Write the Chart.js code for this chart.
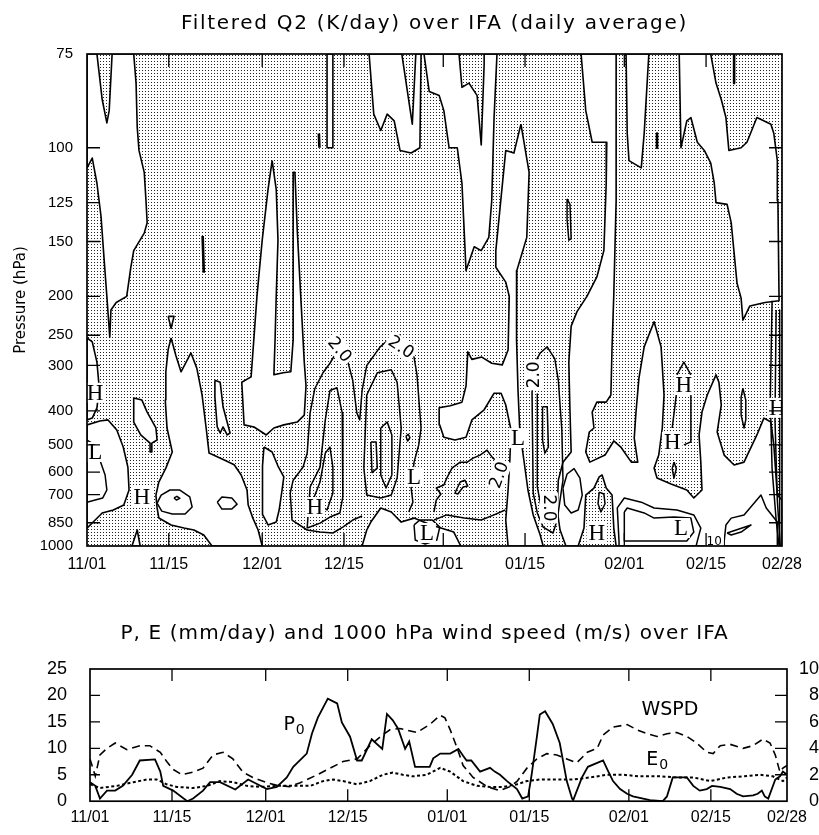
<!DOCTYPE html>
<html>
<head>
<meta charset="utf-8">
<title>Filtered Q2 and surface fluxes over IFA</title>
<script src="https://cdn.jsdelivr.net/npm/chart.js@4.4.1/dist/chart.umd.min.js"></script>
<style>
  html, body { margin: 0; padding: 0; background: #fff; overflow: hidden; }
  canvas { position: absolute; left: 0; }
  #q2 { top: 0; }
  #pe { top: 600px; }
</style>
</head>
<body>
<canvas id="q2" width="819" height="600"></canvas>
<canvas id="pe" width="819" height="235"></canvas>
<script>
// day 0 = 11/01, day 119 = 02/28
const dateTicks = [0, 14, 30, 44, 61, 75, 92, 106, 119];
const dateLabels = ['11/01', '11/15', '12/01', '12/15', '01/01', '01/15', '02/01', '02/15', '02/28'];
const pressureTicks = [75, 100, 125, 150, 200, 250, 300, 400, 500, 600, 700, 850, 1000];

// Q2 < 0 areas (left unshaded), outlined as [day, hPa]
const negativeAreas = [
  [[0,75],[1.7,75],[2.6,85],[3.4,91.6],[3.8,88],[4.3,75],[8.0,75],[8.4,81],[8.6,93],[8.9,101],[9.8,110],[10.1,124],[10.3,137],[9.8,144],[8.0,157],[7.5,171],[6.8,200],[5.0,207],[4.1,216],[3.9,253],[3.4,200],[2.9,162],[2.4,133],[1.7,115],[0.9,104],[0,108]],
  [[0,254],[0.9,260],[1.7,294],[2.1,346],[1.7,392],[0.9,419],[0,424]],
  [[0,438],[2.2,427],[3.6,424],[5.1,453],[6.2,507],[7.0,580],[7.2,678],[6.3,752],[4.5,778],[2.6,794],[1.4,834],[0,883]],
  [[8.0,368],[9.4,373],[10.3,403],[11.8,447],[12.0,484],[11.1,494],[11.1,524],[10.8,524],[10.8,494],[9.2,468],[8.0,430]],
  [[14.4,254],[15.2,282],[16.1,312],[17.8,278],[18.8,305],[19.7,361],[20.4,447],[20.9,528],[23.5,553],[25.2,571],[26.4,612],[27.4,678],[27.6,752],[28.4,823],[29.3,894],[30.0,1000],[21.4,1000],[20.0,926],[18.3,894],[16.6,882],[14.4,863],[12.3,822],[12.0,767],[11.8,702],[12.3,642],[13.5,584],[14.6,524],[13.7,447],[13.4,373],[13.5,312],[13.9,272]],
  [[13.9,224],[14.9,224],[14.4,240]],
  [[21.9,329],[22.8,333],[23.3,390],[24.5,462],[24.0,468],[23.3,444],[22.8,462],[22.3,444],[21.9,366]],
  [[31.7,105],[32.4,118],[32.7,149],[32.4,200],[32.2,257],[32.0,318],[33.6,314],[34.9,312],[35.3,257],[35.3,203],[35.3,110],[35.6,110],[36.0,142],[36.6,200],[37.2,294],[37.5,341],[37.2,411],[36.0,430],[33.7,438],[32.0,447],[30.7,468],[28.6,444],[26.9,438],[26.5,333],[28.1,322],[29.1,200],[30.0,149],[31.0,118]],
  [[30.3,507],[31.7,524],[32.7,576],[33.7,620],[33.4,678],[32.9,778],[32.4,846],[31.0,863],[30.1,805],[30.0,678],[30.1,576]],
  [[41.1,75],[42.1,75],[42.1,100],[41.1,100]],
  [[48.3,75],[49.1,89],[50.3,94],[51.4,89],[52.6,91],[53.6,101],[55.5,102],[57.0,100],[57.2,75],[56.3,75],[55.7,92],[53.9,75]],
  [[57.7,75],[58.6,83],[60.3,84],[61.1,88],[62.0,100],[63.4,100],[64.2,115],[64.9,174],[66.3,154],[67.5,157],[68.8,147],[69.3,124],[69.7,90],[70.2,75],[68.0,75],[68.0,77],[67.5,99],[66.8,84],[65.4,81],[64.2,82],[63.7,75]],
  [[47.1,1000],[47.9,894],[48.6,846],[50.3,767],[52.1,789],[53.8,846],[56.0,823],[58.9,863],[60.6,882],[62.8,907],[64.0,1000]],
  [[74.3,92],[75.7,110],[75.3,147],[73.6,174],[73.5,200],[73.6,257],[73.8,351],[74.1,453],[74.8,553],[75.5,678],[76.4,805],[77.6,926],[78.1,1000],[72.1,1000],[71.7,834],[72.1,678],[72.4,553],[72.6,453],[71.7,385],[70.9,357],[69.7,357],[68.0,397],[65.9,424],[64.9,475],[63.0,484],[61.1,475],[60.4,438],[60.3,392],[62.2,387],[64.2,378],[64.9,341],[65.2,276],[65.9,289],[67.6,285],[69.3,296],[71.1,299],[72.1,273],[72.3,200],[71.7,185],[70.0,171],[70.0,157],[71.7,101],[73.1,102]],
  [[84.6,75],[85.4,88],[86.5,98],[89.0,98],[88.9,115],[88.5,157],[87.3,180],[85.6,200],[83.9,218],[82.9,237],[82.5,294],[82.7,403],[82.9,524],[81.5,561],[80.7,634],[80.5,778],[81.0,894],[82.0,1000],[84.1,1000],[85.1,882],[85.4,702],[86.8,669],[87.7,620],[88.2,612],[88.9,669],[89.9,702],[90.2,882],[90.6,1000],[119,1000],[119,726],[118.2,702],[117.6,500],[117.1,430],[115.9,419],[114.7,468],[112.5,561],[110.8,572],[109.1,535],[107.9,459],[108.6,385],[108.2,333],[107.7,318],[106.2,361],[105.3,403],[104.8,468],[105.1,561],[105.3,678],[103.9,716],[102.7,678],[100.0,651],[97.6,625],[97.1,584],[97.9,535],[98.5,447],[98.8,361],[98.3,268],[97.1,231],[95.4,268],[94.5,325],[94.0,403],[93.7,478],[94.3,561],[93.2,561],[91.4,507],[90.2,487],[88.7,535],[86.1,561],[85.4,524],[86.0,459],[86.8,447],[86.5,403],[87.3,378],[88.9,378],[89.7,361],[89.9,268],[90.2,198],[90.6,124],[90.6,75]],
  [[92.3,75],[92.5,95],[92.8,105],[94.9,108],[95.4,95],[96.2,75]],
  [[101.4,75],[101.7,100],[102.7,91],[103.4,90],[104.5,98],[105.7,101],[106.8,106],[107.4,115],[107.7,125],[109.6,126],[110.3,137],[111.3,186],[112.0,202],[112.3,229],[113.5,211],[116.1,207],[118.5,205],[118.3,124],[118.2,105],[117.6,95],[117.1,92],[114.7,90],[113.0,98],[112.0,100],[109.9,101],[109.4,90],[108.6,85],[107.7,81],[106.8,75]],
  [[7.7,1000],[8.6,894],[9.1,1000]]
];

// closed contours
const contourLoops = [
  [[37.7,882],[38.2,664],[39.9,580],[40.8,424],[41.6,351],[42.8,345],[43.7,405],[43.8,580],[43.8,711],[43.3,794],[41.6,817],[39.9,852]],
  [[38.7,726],[39.9,642],[40.8,528],[41.6,507],[42.1,580],[42.1,692],[41.1,778]],
  [[47.4,584],[47.9,361],[49.7,314],[52.1,308],[53.1,333],[53.8,447],[53.1,625],[52.1,702],[50.3,716],[47.9,702]],
  [[50.3,447],[51.4,430],[52.2,468],[52.2,612],[51.2,669],[50.3,612]],
  [[48.6,490],[49.5,490],[49.7,584],[48.8,602]],
  [[54.6,472],[55.0,466],[55.3,476],[54.9,487]],
  [[77.6,278],[78.8,268],[80.1,288],[80.7,329],[81.3,453],[81.5,634],[81.0,726],[80.5,834],[79.8,913],[78.1,876],[77.1,794],[76.4,692],[76.2,357],[76.5,299]],
  [[78.0,389],[78.8,389],[79.0,507],[78.4,528],[78.0,484]],
  [[63.0,692],[63.9,642],[64.7,634],[65.2,660],[64.4,664],[63.5,697]],
  [[56.0,863],[57.0,834],[59.1,834],[60.4,876],[59.9,959],[57.9,986],[56.2,959]],
  [[100.5,561],[100.9,586],[100.5,625],[100.2,586]],
  [[112.3,346],[112.8,373],[112.8,424],[112.5,447],[112.0,411],[112.0,366]],
  [[82.2,123],[82.7,126],[82.9,148],[82.5,149],[82.2,135]],
  [[92.0,789],[92.5,767],[95.4,794],[97.1,823],[100.5,817],[103.4,823],[103.9,907],[102.7,966],[92.0,966]],
  [[109.6,913],[113.7,863],[112.0,907],[110.3,926]],
  [[87.7,688],[88.5,697],[88.7,745],[88.0,789],[87.5,745]],
  [[81.5,669],[82.2,608],[83.4,586],[84.4,625],[84.8,702],[84.1,778],[82.9,794],[81.8,752]],
  [[12.0,742],[12.7,702],[14.2,678],[15.9,678],[17.6,711],[18.0,762],[16.8,800],[14.6,800],[12.8,784]],
  [[14.9,716],[15.4,708],[15.9,718],[15.3,726]],
  [[22.3,737],[23.1,711],[24.8,716],[25.7,747],[24.8,773],[23.1,773]]
];

// open contour segments
const contourLines = [
  [[47.1,811],[45.5,834],[43.8,876],[42.1,913],[39.9,907],[37.7,894],[35.1,834],[34.8,692],[35.3,634],[37.0,580],[37.7,528],[38.2,405],[39.0,347],[40.4,314],[41.6,296],[43.0,272],[44.5,287],[45.5,329],[46.2,405],[46.7,424],[47.1,351],[47.9,300],[50.2,268],[51.2,260],[53.5,250],[56.0,285],[56.5,318],[57.2,447],[56.8,500],[56.0,561],[55.5,669],[55.8,737],[55.1,789]],
  [[77.1,359],[77.1,664],[77.7,752],[78.8,789]],
  [[59.4,789],[59.8,726],[60.6,697],[59.8,669],[61.1,655],[61.6,625],[62.5,584],[63.9,561],[65.1,561],[66.1,546],[67.3,535],[68.5,518],[69.5,546],[70.9,569],[71.9,586]],
  [[59.4,834],[61.6,805],[64.6,823],[67.5,834],[69.7,805],[71.6,778]],
  [[0,484],[1.4,500],[2.2,553],[3.1,612],[3.4,678],[2.7,716],[1.4,726],[0,737]],
  [[101.0,318],[102.2,294],[103.4,318]],
  [[100.9,361],[100.2,447]],
  [[103.4,361],[103.4,490],[102.2,500]],
  [[91.1,1000],[91.1,972],[90.8,767],[92.0,716],[94.9,737],[97.1,767],[101.0,778],[103.9,805],[105.1,882],[104.5,966],[104.3,1000]],
  [[109.1,1000],[109.1,966],[109.4,863],[110.3,823],[112.5,805],[115.4,702],[116.3,767],[118.2,846],[118.2,966],[118.2,1000]],
  [[117.3,205],[117.0,373],[117.3,586],[118.0,834],[118.5,1000]],
  [[118.0,216],[117.8,424],[118.2,726],[118.7,1000]],
  [[118.6,216],[118.6,1000]]
];

// single-cell contours
const cellMarks = [
  [[110.8,75],[110.8,81]],
  [[97.6,95],[97.6,100]],
  [[39.7,95],[39.8,100]],
  [[19.8,146],[20.0,176]]
];

const extrema = [
  ['H', 1.4, 356], ['L', 1.4, 524], ['H', 9.4, 711], ['H', 39.0, 762],
  ['L', 56.0, 620], ['L', 58.2, 913], ['L', 73.8, 478], ['H', 87.3, 913],
  ['H', 102.2, 339], ['H', 100.2, 490], ['L', 101.7, 882], ['H', 118.2, 392]
];
// [text, day, hPa, rotation in degrees]
const contourTags = [
  ['2.0', 43.3, 272, 50], ['2.0', 53.8, 268, 34], ['2.0', 76.5, 318, -90],
  ['2.0', 70.5, 612, -70], ['2.0', 79.1, 767, 90], ['10', 107.4, 966, 0]
];

// lower panel, [day, value]
const precip = [[0,3.6],[0.9,2.9],[1.7,0.5],[2.9,2.0],[4.3,2.0],[5.6,2.9],[7.2,5.0],[8.5,7.7],[11.1,7.9],[12,5.6],[12.5,2.9],[14.2,2.0],[16.6,0],[17.6,0.5],[19.3,2.0],[20.5,3.6],[22.2,3.6],[24.8,2.2],[27,4.1],[30.2,2.3],[31.9,2.7],[33.6,4.5],[34.7,6.5],[37,9.0],[37.9,12.8],[38.9,15.8],[40.6,19.4],[42.2,18.5],[43,14.9],[44.4,12.2],[45.6,7.7],[46.4,7.7],[48.1,11.7],[49.9,9.9],[50.7,16.5],[51.7,15.3],[52.6,13.7],[53.8,9.9],[54.5,11.3],[55.5,6.5],[58,6.5],[58.6,8.1],[59.8,9.0],[61.5,9.0],[62.9,9.9],[63.7,8.6],[64.3,7.7],[65.1,7.7],[66.6,5.6],[68.3,6.3],[69.1,5.6],[70,5.0],[71.2,3.8],[72.9,2.3],[73.8,0.5],[74.8,0.9],[75.4,5.0],[76.3,12.2],[76.8,16.4],[77.7,17.0],[79,14.6],[80.2,11.0],[80.8,7.4],[81.4,3.8],[82.3,0.5],[82.5,0.2],[84,4.5],[85,6.5],[86.5,7.2],[87.6,7.7],[88.5,5.6],[89.3,3.8],[90.5,2.3],[91.7,1.4],[92.7,0.9],[95.6,0.2],[97.8,0],[98.5,0.9],[99.5,4.5],[101.9,4.5],[103,2.9],[104.1,2.0],[105.3,2.3],[106.2,2.9],[107.6,2.7],[109.3,2.3],[110.4,1.4],[111.5,0.9],[113.2,1.1],[114,1.4],[114.7,2.0],[115.2,0.9],[115.8,0.5],[117,4.1],[117.8,4.7],[118.3,5.6],[119,5.0]];
const evap = [[0,3.2],[1.7,2.5],[4.6,2.9],[7.4,3.6],[9.7,4.1],[11.4,4.1],[13.1,3.2],[14.8,2.7],[17.6,2.5],[20,2.9],[22.2,3.8],[24.4,3.6],[26.8,2.9],[29,2.7],[31.9,2.9],[34.7,2.9],[37.6,2.9],[39.8,3.8],[41.5,4.1],[43.2,3.8],[45.6,3.2],[47.8,3.8],[50,5.0],[51.7,5.4],[53.4,5.0],[55.1,4.7],[57.5,5.0],[59.8,6.3],[61.5,5.6],[63.7,3.8],[66.1,2.9],[68.3,2.7],[70.5,2.7],[72.9,3.2],[74.6,3.8],[76.8,4.1],[79.7,4.1],[82.5,4.1],[85.4,4.5],[88.3,5.0],[91,5.0],[93.9,4.7],[97.3,4.7],[100.2,4.5],[103,4.5],[105.9,3.8],[108.8,4.5],[111.5,4.7],[114.4,5.0],[116.6,4.7],[118.3,3.8],[119,4.5]];
const wspd = [[0,3.2],[0.9,1.9],[1.2,2.5],[1.7,3.5],[2.9,4.0],[4.3,4.4],[5.1,4.2],[6.3,3.9],[8.5,4.2],[10.2,4.2],[12,3.7],[13.1,3.0],[14.2,2.4],[15.7,2.0],[17.6,2.2],[19.3,2.5],[21,3.5],[22.7,3.7],[24.4,3.2],[26.1,2.2],[27.8,1.8],[30.2,1.4],[31.9,1.2],[34.1,1.1],[35.9,1.4],[38.8,2.0],[41,2.5],[43.2,3.0],[45.6,3.2],[47.8,4.2],[49.9,5.0],[51.2,5.4],[52.9,5.5],[55.8,5.2],[58,5.8],[59.8,6.5],[60.6,6.3],[61.5,5.4],[62.7,4.0],[63.7,2.7],[65.4,1.8],[67.8,1.1],[70,0.8],[71.7,1.1],[72.9,1.5],[74.6,2.5],[76.3,3.2],[78,3.6],[79.7,3.5],[81.4,3.2],[83.1,2.9],[84.9,3.7],[86.6,4.0],[87.6,5.0],[89.3,5.6],[91.7,5.8],[93.4,5.4],[95.1,5.1],[96.8,4.9],[98.5,5.1],[100.2,5.2],[101.9,4.9],[103.6,4.4],[105.3,3.7],[106.4,3.6],[107.6,4.2],[109.3,4.3],[111.5,4.0],[113.2,4.2],[114.9,4.7],[116.1,4.4],[117,3.5],[117.8,2.2],[118.3,2.5],[119,2.7]];
// [text, subscript, day, left-axis value]
const seriesTags = [['P', '0', 34.0, 14.7], ['WSPD', '', 99.0, 17.6], ['E', '0', 96.0, 8.1]];

const toXY = pts => pts.map(([x, y]) => ({ x, y }));
const closed = pts => toXY(pts.concat([pts[0]]));

// vertical coordinate ~ ln(p - 50)
class PressureScale extends Chart.LinearScale {
  static id = 'pressure';
  buildTicks() {
    return pressureTicks.map(value => ({ value }));
  }
  _z(v) { return Math.log(v - 50); }
  getPixelForValue(value) {
    const a = this._z(this.min), b = this._z(this.max);
    return this.getPixelForDecimal((this._z(value) - a) / (b - a));
  }
  getValueForPixel(pixel) {
    const a = this._z(this.min), b = this._z(this.max);
    return 50 + Math.exp(a + this.getDecimalForPixel(pixel) * (b - a));
  }
}
Chart.register(PressureScale);

function stipplePattern(ctx) {
  const c = document.createElement('canvas');
  c.width = 3; c.height = 3;
  const g = c.getContext('2d');
  g.fillStyle = '#222';
  g.fillRect(1, 1, 1, 1);
  return ctx.createPattern(c, 'repeat');
}

const stipple = {
  id: 'stipple',
  beforeDatasetsDraw(chart) {
    const { ctx, chartArea: a } = chart;
    ctx.save();
    ctx.fillStyle = stipplePattern(ctx);
    ctx.fillRect(a.left, a.top, a.right - a.left, a.bottom - a.top);
    ctx.restore();
  }
};

// box around the plot with inward tick marks
const frameTicks = {
  id: 'frameTicks',
  afterDraw(chart, args, opts) {
    const { ctx, chartArea: a, scales } = chart;
    const inside = (v, lo, hi) => v > lo + 1 && v < hi - 1;
    ctx.save();
    ctx.strokeStyle = '#000';
    ctx.lineWidth = 1.3;
    ctx.beginPath();
    scales.x.ticks.forEach(t => {
      const px = scales.x.getPixelForValue(t.value);
      if (!inside(px, a.left, a.right)) return;
      ctx.moveTo(px, a.top); ctx.lineTo(px, a.top + opts.xLen);
      ctx.moveTo(px, a.bottom); ctx.lineTo(px, a.bottom - opts.xLen);
    });
    const l = scales[opts.left], r = scales[opts.right];
    l.ticks.forEach(t => {
      const py = l.getPixelForValue(t.value);
      if (!inside(py, a.top, a.bottom)) return;
      ctx.moveTo(a.left, py); ctx.lineTo(a.left + opts.leftLen, py);
    });
    r.ticks.forEach(t => {
      const py = r.getPixelForValue(t.value);
      if (!inside(py, a.top, a.bottom)) return;
      ctx.moveTo(a.right, py); ctx.lineTo(a.right - opts.rightLen, py);
    });
    ctx.stroke();
    ctx.lineWidth = 1.7;
    ctx.strokeRect(a.left, a.top, a.right - a.left, a.bottom - a.top);
    ctx.restore();
  }
};

const heading = {
  id: 'heading',
  afterDraw(chart, args, opts) {
    const { ctx, chartArea: a } = chart;
    ctx.save();
    ctx.font = opts.font;
    ctx.letterSpacing = opts.spacing;
    ctx.fillStyle = '#000';
    ctx.textAlign = 'center';
    ctx.textBaseline = 'alphabetic';
    ctx.fillText(opts.text, a.left + (a.right - a.left) * opts.at, opts.baseline);
    ctx.restore();
  }
};

const q2Labels = {
  id: 'q2Labels',
  afterDatasetsDraw(chart) {
    const { ctx, chartArea: a, scales: { x, y } } = chart;
    ctx.save();
    ctx.beginPath();
    ctx.rect(a.left, a.top, a.right - a.left, a.bottom - a.top);
    ctx.clip();
    ctx.textAlign = 'center';
    ctx.textBaseline = 'middle';
    ctx.font = '23px "Liberation Serif"';
    extrema.forEach(([t, d, p]) => {
      const px = x.getPixelForValue(d), py = y.getPixelForValue(p);
      const w = ctx.measureText(t).width;
      ctx.fillStyle = '#fff';
      ctx.fillRect(px - w / 2 - 2, py - 10, w + 4, 20);
      ctx.fillStyle = '#000';
      ctx.fillText(t, px, py + 1);
    });
    contourTags.forEach(([t, d, p, rot]) => {
      const px = x.getPixelForValue(d), py = y.getPixelForValue(p);
      ctx.save();
      ctx.translate(px, py);
      ctx.rotate(rot * Math.PI / 180);
      ctx.font = t === '10' ? '12px "DejaVu Sans"' : '17px "DejaVu Sans"';
      const w = ctx.measureText(t).width;
      ctx.fillStyle = '#fff';
      ctx.fillRect(-w / 2 - 2, -9, w + 4, 18);
      ctx.fillStyle = '#000';
      ctx.fillText(t, 0, 1);
      ctx.restore();
    });
    ctx.restore();
  }
};

const seriesLabels = {
  id: 'seriesLabels',
  afterDatasetsDraw(chart) {
    const { ctx, scales: { x, y } } = chart;
    ctx.save();
    ctx.fillStyle = '#000';
    ctx.textAlign = 'left';
    ctx.textBaseline = 'alphabetic';
    seriesTags.forEach(([main, sub, d, v]) => {
      const px = x.getPixelForValue(d), py = y.getPixelForValue(v);
      ctx.font = '19px "DejaVu Sans"';
      const w = ctx.measureText(main).width;
      const x0 = px - w / 2;
      ctx.fillText(main, x0, py + 7);
      if (sub) {
        ctx.font = '14px "DejaVu Sans"';
        ctx.fillText(sub, x0 + w + 1, py + 11);
      }
    });
    ctx.restore();
  }
};

const tickFont = size => ({ family: 'Liberation Sans', size });
const dateAxis = (height, pad) => ({
  type: 'linear', min: 0, max: 119,
  afterBuildTicks: s => { s.ticks = dateTicks.map(value => ({ value })); },
  afterFit: s => { s.height = height; },
  grid: { display: false, drawTicks: false },
  border: { display: false },
  ticks: { autoSkip: false, maxRotation: 0, padding: pad, color: '#000', font: tickFont(16), callback: (v, i) => dateLabels[i] }
});
const hiddenAxis = (type, position, size, extra) => Object.assign({
  type, position,
  afterFit: s => { if (s.isHorizontal()) s.height = size; else s.width = size; },
  grid: { display: false, drawTicks: false },
  border: { display: false },
  ticks: { display: false }
}, extra);

// upper panel: filtered Q2
const q2Sets = [];
negativeAreas.forEach(a => q2Sets.push({ data: closed(a), fill: 'shape', backgroundColor: '#fff', borderColor: '#000', borderWidth: 1.6, order: 3 }));
contourLoops.forEach(a => q2Sets.push({ data: closed(a), fill: false, borderColor: '#000', borderWidth: 1.5, order: 2 }));
contourLines.forEach(a => q2Sets.push({ data: toXY(a), fill: false, borderColor: '#000', borderWidth: 1.5, order: 2 }));
cellMarks.forEach(a => q2Sets.push({ data: toXY(a), fill: false, borderColor: '#000', borderWidth: 2.6, order: 1 }));

new Chart(document.getElementById('q2'), {
  type: 'line',
  data: { datasets: q2Sets },
  options: {
    responsive: false,
    animation: false,
    events: [],
    elements: { point: { radius: 0 }, line: { tension: 0, borderJoinStyle: 'round' } },
    plugins: {
      legend: { display: false },
      tooltip: { enabled: false },
      heading: { text: 'Filtered Q2 (K/day) over IFA (daily average)', font: '20px "DejaVu Sans"', spacing: '1.7px', at: 0.5, baseline: 29 },
      frameTicks: { left: 'y', right: 'yr', xLen: 13, leftLen: 13, rightLen: 13 }
    },
    scales: {
      x: dateAxis(54, 9),
      xt: hiddenAxis('linear', 'top', 54, { min: 0, max: 119 }),
      y: {
        type: 'pressure', min: 75, max: 1000, reverse: true,
        afterFit: s => { s.width = 87; },
        grid: { display: false, drawTicks: false },
        border: { display: false },
        ticks: { autoSkip: false, padding: 14, color: '#000', font: tickFont(15), callback: v => String(v) },
        title: { display: true, text: 'Pressure (hPa)', color: '#000', font: { family: 'DejaVu Sans', size: 15 }, padding: { top: 12, bottom: 0 } }
      },
      yr: hiddenAxis('pressure', 'right', 37, { min: 75, max: 1000, reverse: true })
    }
  },
  plugins: [stipple, q2Labels, frameTicks, heading]
});

// lower panel: P, E and surface wind speed
new Chart(document.getElementById('pe'), {
  type: 'line',
  data: {
    datasets: [
      { data: toXY(precip), borderColor: '#000', borderWidth: 1.8, yAxisID: 'y' },
      { data: toXY(wspd), borderColor: '#000', borderWidth: 1.6, borderDash: [8, 5], yAxisID: 'y2' },
      { data: toXY(evap), borderColor: '#000', borderWidth: 2, borderDash: [3, 2.5], yAxisID: 'y' }
    ]
  },
  options: {
    responsive: false,
    animation: false,
    events: [],
    elements: { point: { radius: 0 }, line: { tension: 0, fill: false } },
    plugins: {
      legend: { display: false },
      tooltip: { enabled: false },
      heading: { text: 'P, E (mm/day) and 1000 hPa wind speed (m/s) over IFA', font: '20px "DejaVu Sans"', spacing: '1.1px', at: 0.48, baseline: 39 },
      frameTicks: { left: 'y', right: 'y2', xLen: 12, leftLen: 10, rightLen: 12 }
    },
    scales: {
      x: dateAxis(27, 7),
      xt: hiddenAxis('linear', 'top', 69, { min: 0, max: 119 }),
      y: {
        min: 0, max: 25,
        afterFit: s => { s.width = 90; },
        grid: { display: false, drawTicks: false },
        border: { display: false },
        ticks: { stepSize: 5, padding: 23, color: '#000', font: tickFont(18) }
      },
      y2: {
        position: 'right', min: 0, max: 10,
        afterFit: s => { s.width = 32; },
        grid: { display: false, drawTicks: false },
        border: { display: false },
        ticks: { stepSize: 2, crossAlign: 'far', color: '#000', font: tickFont(18) }
      }
    }
  },
  plugins: [seriesLabels, frameTicks, heading]
});
</script>
</body>
</html>
